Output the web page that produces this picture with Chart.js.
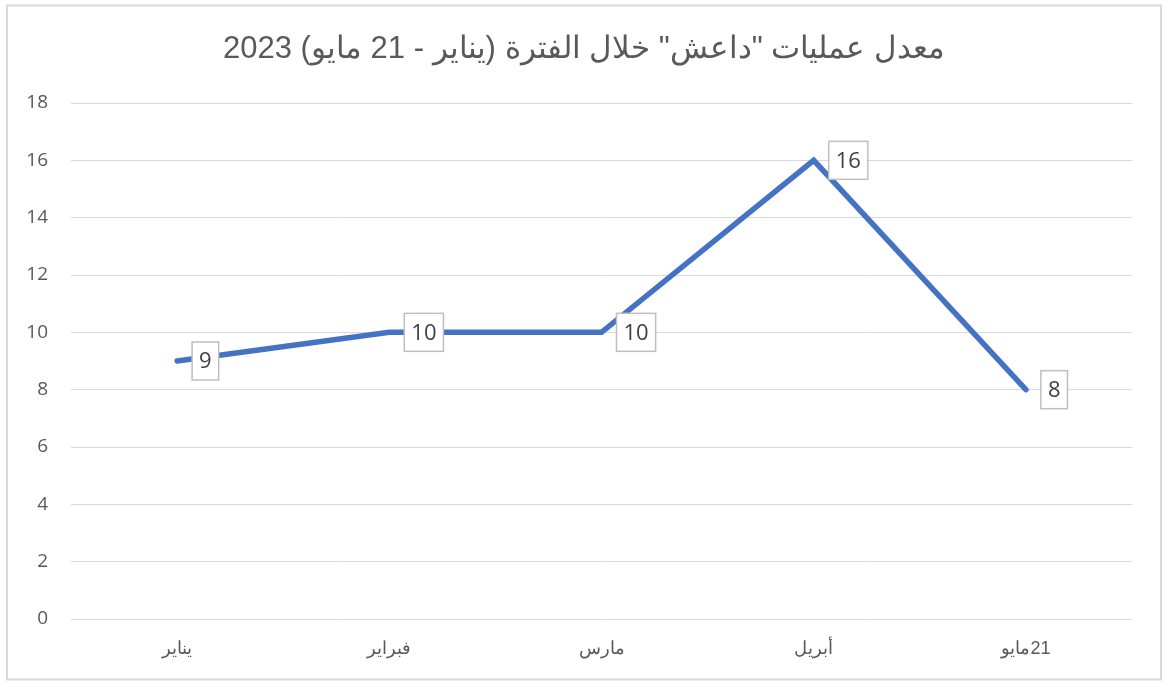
<!DOCTYPE html>
<html dir="ltr">
<head>
<meta charset="utf-8">
<script src="https://cdn.jsdelivr.net/npm/chart.js@4"></script>
<style>
  body { margin: 0; background: #fff; }
  canvas { display: block; }
</style>
</head>
<body>
<canvas id="myChart" width="1168" height="689" style="width:1168px;height:689px"></canvas>
<script>
// chart data
const titleText = 'معدل عمليات "داعش" خلال الفترة (يناير - 21 مايو) 2023';
const months = ['يناير', 'فبراير', 'مارس', 'أبريل', '21مايو'];
const attacks = [9, 10, 10, 16, 8];
const yTicks = [0, 2, 4, 6, 8, 10, 12, 14, 16, 18];

const textGrey = '#595959';
const gridGrey = '#d9d9d9';
const xFont = '18px "Liberation Sans", Arial, sans-serif';

// outer frame like the excel chart border
const framePlugin = {
  id: 'frame',
  beforeDraw(chart) {
    const c = chart.ctx;
    c.save();
    c.fillStyle = '#fff';
    c.fillRect(0, 0, chart.width, chart.height);
    c.strokeStyle = gridGrey;
    c.lineWidth = 2;
    c.strokeRect(7, 5.5, 1154, 674);
    c.restore();
  },
  afterLayout(chart) {
    // centre the title on the whole canvas
    chart.titleBlock.left = 0;
    chart.titleBlock.right = chart.width;
  }
};

// category labels laid out right-to-left: the arabic word, then the day number on its right
const monthLabels = {
  id: 'monthLabels',
  afterDraw(chart) {
    const c = chart.ctx;
    const xs = chart.scales.x;
    c.save();
    c.font = xFont;
    c.fillStyle = textGrey;
    c.textBaseline = 'middle';
    c.textAlign = 'left';
    const y = xs.top + 30;
    chart.data.labels.forEach((lab, i) => {
      const x = xs.getPixelForTick(i);
      const m = lab.match(/^(\d+)(.+)$/);
      const parts = m ? [m[2], m[1]] : [lab];
      const widths = parts.map(p => c.measureText(p).width);
      let left = x - widths.reduce((a, b) => a + b, 0) / 2;
      parts.forEach((p, k) => {
        c.fillText(p, left, y);
        left += widths[k];
      });
    });
    c.restore();
  }
};

// boxed value labels to the right of every point
const boxLabels = {
  id: 'boxLabels',
  afterDatasetsDraw(chart) {
    const c = chart.ctx;
    const meta = chart.getDatasetMeta(0);
    c.save();
    c.font = '22px "Open Sans", sans-serif';
    c.textBaseline = 'middle';
    c.textAlign = 'center';
    meta.data.forEach((pt, i) => {
      const txt = String(chart.data.datasets[0].data[i]);
      const w = c.measureText(txt).width + 14;
      const h = 38;
      const left = pt.x + 15;
      const top = pt.y - h / 2;
      c.fillStyle = '#fff';
      c.fillRect(left, top, w, h);
      c.strokeStyle = '#bfbfbf';
      c.lineWidth = 1.5;
      c.strokeRect(left, top, w, h);
      c.fillStyle = '#404040';
      c.fillText(txt, left + w / 2, pt.y + 1);
    });
    c.restore();
  }
};

const ctx = document.getElementById('myChart').getContext('2d');

const myChart = new Chart(ctx, {
  type: 'line',
  data: {
    labels: months,
    datasets: [{
      data: attacks,
      borderColor: '#4472c4',
      borderWidth: 5.5,
      borderCapStyle: 'round',
      tension: 0,
      pointRadius: 0,
      pointHoverRadius: 0,
      fill: false
    }]
  },
  options: {
    responsive: false,
    animation: false,
    layout: {
      padding: { top: 10, left: 10, right: 36, bottom: 30 }
    },
    scales: {
      x: {
        offset: true,
        grid: { display: false, drawTicks: false },
        border: { display: false },
        ticks: { display: false },
        afterFit(scale) { scale.height = 40; }
      },
      y: {
        min: 0,
        max: 18,
        afterBuildTicks(scale) {
          scale.ticks = yTicks.map(v => ({ value: v }));
        },
        grid: { color: gridGrey, lineWidth: 1, drawTicks: false },
        border: { display: false },
        ticks: {
          padding: 23,
          color: textGrey,
          font: { family: '"Open Sans", sans-serif', size: 19 }
        },
        afterFit(scale) { scale.width = 61; }
      }
    },
    plugins: {
      legend: { display: false },
      tooltip: { enabled: false },
      title: {
        display: true,
        text: '\u202B' + titleText + '\u202C',
        color: textGrey,
        font: { family: '"Liberation Sans", Arial, sans-serif', size: 31, weight: 'normal' },
        padding: { top: 21, bottom: 34.8 }
      }
    }
  },
  plugins: [framePlugin, boxLabels, monthLabels]
});
</script>
</body>
</html>
